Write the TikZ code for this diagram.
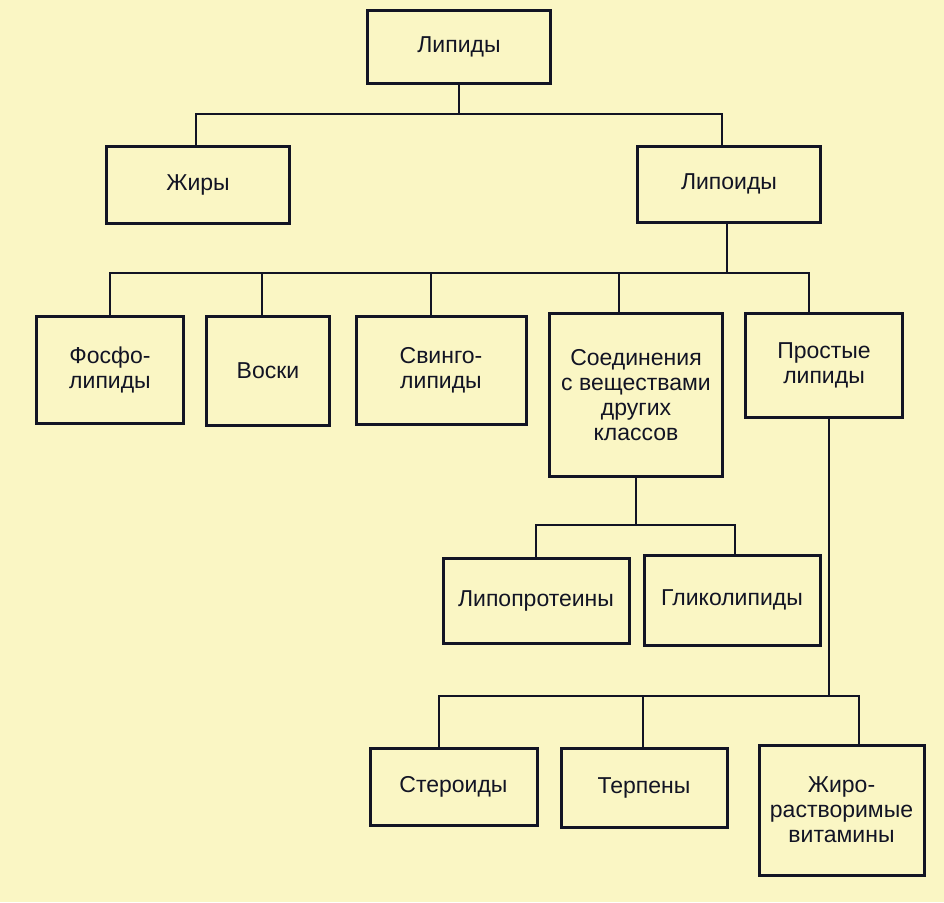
\documentclass[tikz,border=0pt]{standalone}
\usepackage{fontspec}
\setmainfont{Liberation Sans}
\usepackage{tikz}
\usetikzlibrary{calc,positioning}

\definecolor{bg}{RGB}{250,246,196}
\definecolor{ink}{RGB}{18,20,36}

\tikzset{
  box/.style={draw=ink, line width=3pt, fill=bg, inner sep=0pt,
    align=center, text=ink, font=\fontsize{23}{25}\selectfont},
  link/.style={draw=ink, line width=2pt}
}

\begin{document}
\begin{tikzpicture}[x=1pt, y=-1pt]
    \useasboundingbox (0,0) rectangle (944,902);
    \fill[bg] (0,0) rectangle (944,902);

    % boxes
    \node[box, minimum width=183, minimum height=73] (lipidy) at (459,46.5) {Липиды};
    \node[box, minimum width=183, minimum height=77] (zhiry) at (198,184.5) {Жиры};
    \node[box, minimum width=183, minimum height=76] (lipoidy) at (729,184) {Липоиды};

    \node[box, minimum width=147, minimum height=107] (fosfo) at (110,369.5) {Фосфо-\\липиды};
    \node[box, minimum width=123, minimum height=109] (voski) at (268,370.5) {Воски};
    \node[box, minimum width=170, minimum height=108] (svingo) at (441,370) {Свинго-\\липиды};
    \node[box, minimum width=173, minimum height=163] (soed) at (636,395) {Соединения\\с веществами\\других\\классов};
    \node[box, minimum width=157, minimum height=104] (prostye) at (824,365) {Простые\\липиды};

    \node[box, minimum width=186, minimum height=85] (lipoprot) at (536,600.5) {Липопротеины};
    \node[box, minimum width=176, minimum height=90] (gliko) at (732,600) {Гликолипиды};

    \node[box, minimum width=167, minimum height=77] (steroidy) at (453.5,786.5) {Стероиды};
    \node[box, minimum width=166, minimum height=79] (terpeny) at (644,787.5) {Терпены};
    \node[box, minimum width=165, minimum height=130] (zhiro) at (841.5,810) {Жиро-\\растворимые\\витамины};

    % connectors
    \coordinate (b1) at ([yshift=-29pt]lipidy.south);
    \draw[link] (lipidy.south) -- (b1);
    \draw[link] ([xshift=-2pt]zhiry.north) |- (b1) -| ([xshift=-7pt]lipoidy.north);

    \coordinate (b2) at ([xshift=-2pt,yshift=-49pt]lipoidy.south);
    \draw[link] ([xshift=-2pt]lipoidy.south) -- (b2);
    \draw[link] (fosfo.north) |- (b2) -| ([xshift=-15pt]prostye.north);
    \draw[link] ([xshift=-6pt]voski.north) -- ([xshift=-6pt]voski.north |- b2);
    \draw[link] ([xshift=-10pt]svingo.north) -- ([xshift=-10pt]svingo.north |- b2);
    \draw[link] ([xshift=-17pt]soed.north) -- ([xshift=-17pt]soed.north |- b2);

    \coordinate (b3) at ([yshift=-46.5pt]soed.south);
    \draw[link] (soed.south) -- (b3);
    \draw[link] (lipoprot.north) |- (b3) -| ([xshift=3pt]gliko.north);

    \coordinate (b4) at ([xshift=5pt,yshift=-277pt]prostye.south);
    \draw[link] ([xshift=5pt]prostye.south) -- (b4);
    \draw[link] ([xshift=-14.5pt]steroidy.north) |- (b4) -| ([xshift=17.5pt]zhiro.north);
    \draw[link] ([xshift=-1pt]terpeny.north) -- ([xshift=-1pt]terpeny.north |- b4);
\end{tikzpicture}
\end{document}
